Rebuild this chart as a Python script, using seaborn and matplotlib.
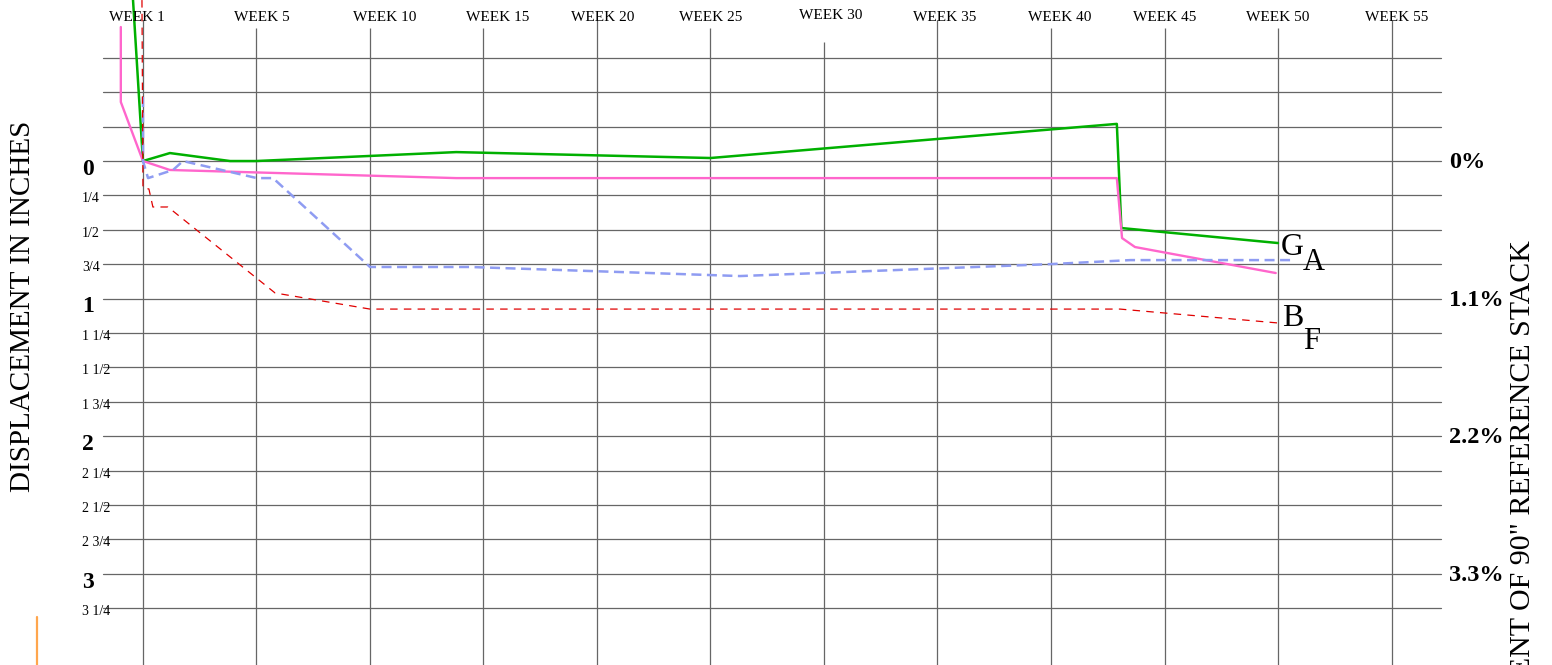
import numpy as np
import pandas as pd
import matplotlib
matplotlib.use("Agg")
import matplotlib.pyplot as plt
import matplotlib.transforms as mtransforms
from matplotlib.lines import Line2D
import seaborn as sns

WEEK_TICKS = [1, 5, 10, 15, 20, 25, 30, 35, 40, 45, 50, 55]
WEEK_LABELS = [f"WEEK {w}" for w in WEEK_TICKS]

INCH_GRID = np.arange(-0.75, 3.26, 0.25)
INCH_LABELS = ["0", "1/4", "1/2", "3/4", "1", "1 1/4", "1 1/2", "1 3/4",
               "2", "2 1/4", "2 1/2", "2 3/4", "3", "3 1/4"]
PCT_LABELS = ["0%", "1.1%", "2.2%", "3.3%"]

# displacement in inches (positive = downward) by week
green_weeks = [0.65, 1.0, 1.95, 4.07, 4.98, 13.8, 25.0, 42.9, 43.1, 50.0]
green_disp = [-1.17, 0.0, -0.058, 0.0, 0.0, -0.065, -0.022, -0.27, 0.487, 0.596]

pink_weeks = [0.22, 0.22, 1.0, 1.95, 13.8, 42.9, 43.13, 43.7, 49.9]
pink_disp = [-0.974, -0.429, 0.0, 0.065, 0.124, 0.124, 0.56, 0.625, 0.814]

blue_weeks = [1.0, 1.0, 1.18, 2.06, 2.41, 5.02, 5.73, 10.0, 14.4, 26.3, 40.0, 43.5, 50.7]
blue_disp = [-0.465, 0.0, 0.124, 0.065, 0.0, 0.124, 0.124, 0.77, 0.77, 0.836, 0.749, 0.72, 0.72]

red_weeks = [0.965, 1.0, 1.21, 1.35, 1.88, 5.82, 10.0, 43.04, 50.0]
red_disp = [-1.17, 0.196, 0.203, 0.334, 0.334, 0.959, 1.076, 1.076, 1.177]


def week_pos(w):
    # grid columns: week 1 -> 0, week 5 -> 1, then one column per 5 weeks
    w = np.asarray(w, dtype=float)
    return np.where(w < 5, (w - 1) / 4, 1 + (w - 5) / 5)


sns.set_style("white")
plt.rcParams["font.family"] = ["Liberation Serif", "DejaVu Serif"]
plt.rcParams["text.color"] = "black"

fig = plt.figure(figsize=(15.52, 6.65), dpi=100)
ax = fig.add_axes([103 / 1552, 0, 1338 / 1552, 637 / 665])
ax.set_xlim(-0.352, 11.436)
ax.set_ylim(3.663, -0.967)
for s in ax.spines.values():
    s.set_visible(False)

grid_kw = dict(color="#666666", lw=0.9, zorder=1, clip_on=False)
for y in INCH_GRID:
    ax.axhline(y, **grid_kw)
# some column lines run up into their labels, week 30 stops short
line_top = {1: -1.025, 20: -1.025, 35: -1.025, 55: -1.025, 30: -0.865}
for w, p in zip(WEEK_TICKS, week_pos(WEEK_TICKS)):
    ax.vlines(p, line_top.get(w, -0.967), 3.663, **grid_kw)

series = [
    (green_weeks, green_disp, "#00b000", 1.8, "-"),
    (pink_weeks, pink_disp, "#ff66cc", 1.7, "-"),
    (blue_weeks, blue_disp, "#8f9cf2", 1.8, (0, (4, 2.2))),
    (red_weeks, red_disp, "#e00000", 0.9, (0, (6, 5))),
]
for weeks, disp, color, lw, ls in series:
    df = pd.DataFrame({"pos": week_pos(weeks), "disp": disp})
    sns.lineplot(data=df, x="pos", y="disp", ax=ax, color=color, lw=lw,
                 linestyle=ls, sort=False, estimator=None, clip_on=False, zorder=3)

ax.set_xlabel("")
ax.set_ylabel("")
ax.set_xticks([])
ax.set_yticks([])

# week labels along the top, slightly off-centre as in the original sheet
label_dx = [-6, 5, 15, 14, 6, 0, 7, 7, 9, 0, 0, 5]
xtrans = mtransforms.blended_transform_factory(ax.transData, ax.transAxes)
for w, lab, dx in zip(WEEK_TICKS, WEEK_LABELS, label_dx):
    dy = 2 if w == 30 else 0
    off = mtransforms.ScaledTranslation(dx / 100, dy / 100, fig.dpi_scale_trans)
    ax.text(week_pos(w), 1 + 10 / 637, lab, transform=xtrans + off,
            ha="center", va="center", fontsize=11)

# left inch labels and right percent labels
trans = mtransforms.blended_transform_factory(ax.transAxes, ax.transData)
left_x = (82 - 103) / 1338
for i, lab in enumerate(INCH_LABELS):
    y = i * 0.25
    if i % 4 == 0:
        ax.text(left_x, y + 0.06, lab, transform=trans, ha="left", va="center",
                fontsize=17, fontweight="bold")
        ax.text(1.006, y + 0.012, PCT_LABELS[i // 4], transform=trans, ha="left",
                va="center", fontsize=17.5, fontweight="bold")
    else:
        ax.text(left_x, y + 0.025, lab, transform=trans, ha="left", va="center",
                fontsize=10)

# end-of-line labels
end_kw = dict(textcoords="offset points", ha="left", va="center", annotation_clip=False)
gx, gy = week_pos(green_weeks[-1]), green_disp[-1]
ax.annotate("G", (gx, gy), xytext=(2, -3), fontsize=23, **end_kw)
ax.annotate("A", (gx, gy), xytext=(18, -14), fontsize=22, **end_kw)
rx, ry = week_pos(red_weeks[-1]), red_disp[-1]
ax.annotate("B", (rx, ry), xytext=(3, 3), fontsize=23, **end_kw)
ax.annotate("F", (rx, ry), xytext=(18, -13), fontsize=22, **end_kw)

fig.text(23 / 1552, 1 - 306 / 665, "DISPLACEMENT IN INCHES", rotation=90,
         ha="center", va="center", fontsize=21)
fig.text(1523 / 1552, 1 - 240 / 665, "PERCENT OF 90\" REFERENCE STACK", rotation=90,
         ha="center", va="top", fontsize=21.5)
fig.add_artist(Line2D([37 / 1552, 37 / 1552], [0, 48 / 665], color="#ffa64d", lw=1.6,
                      transform=fig.transFigure))

fig.savefig("out.png", dpi=100)
